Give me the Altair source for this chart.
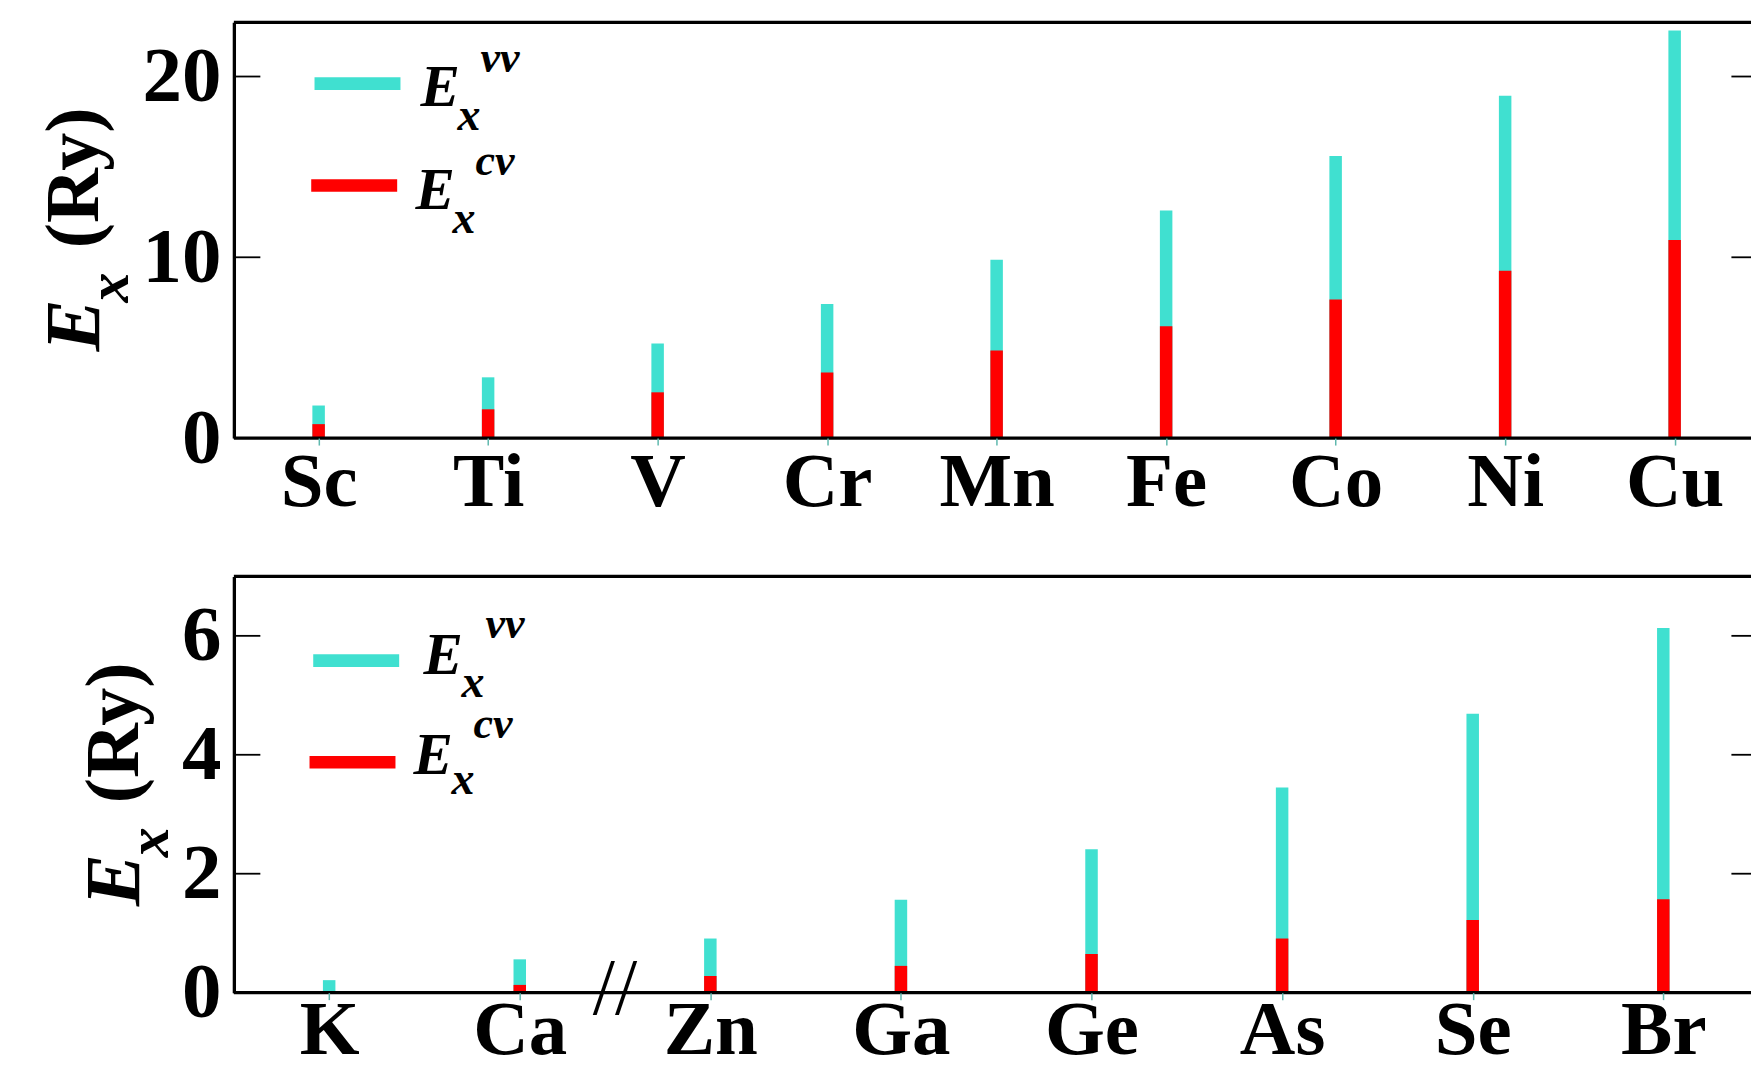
import altair as alt
import pandas as pd

# ---------------- data ----------------
top_elements = ["Sc", "Ti", "V", "Cr", "Mn", "Fe", "Co", "Ni", "Cu"]
top_vv = [1.80, 3.36, 5.23, 7.41, 9.87, 12.59, 15.60, 18.93, 22.55]
top_cv = [0.77, 1.59, 2.53, 3.63, 4.85, 6.19, 7.66, 9.26, 10.95]
top_yticks = [0, 10, 20]

bot_elements = ["K", "Ca", "Zn", "Ga", "Ge", "As", "Se", "Br"]
bot_vv = [0.21, 0.56, 0.91, 1.56, 2.41, 3.45, 4.69, 6.13]
bot_cv = [0.0, 0.13, 0.28, 0.45, 0.65, 0.91, 1.22, 1.57]
bot_yticks = [0, 2, 4, 6]

bot_break = [1.5]   # axis break drawn between Ca and Zn

FONT = "'Liberation Serif', 'Times New Roman', Times, serif"
TEAL = "#40E0D0"
RED = "#FF0000"
one = pd.DataFrame({"k": [0]})

W = 1518          # visible plot width (the right frame lies just beyond the window)
STEP_TOP = 169.6  # px per element, top panel
STEP_BOT = 190.7  # px per element, bottom panel
H_TOP = 416
H_BOT = 416.5
LABEL_SIZE = 77


def txt(s, x, y, size, italic=True, angle=0, weight="bold"):
    kw = dict(text=s, font=FONT, fontSize=size, fontWeight=weight,
              align="left", baseline="alphabetic", color="black")
    if italic:
        kw["fontStyle"] = "italic"
    if angle:
        kw["angle"] = angle
    return alt.Chart(one).mark_text(**kw).encode(x=alt.value(x), y=alt.value(y))


def hline(x1, x2, y, color, sw):
    return alt.Chart(one).mark_rule(color=color, strokeWidth=sw, strokeCap="butt").encode(
        x=alt.value(x1), x2=alt.value(x2), y=alt.value(y))


def panel(elements, vv, cv, yticks, ymax, step, H, leg, ttl, lab_pad, brk=None, anchor=False):
    idx = list(range(len(elements)))
    df = pd.DataFrame({"i": idx, "el": elements, "vv": vv, "cv": cv})
    names = "[" + ",".join("'%s'" % e for e in elements) + "]"
    xmax = -0.5 + W / step
    xscale = alt.Scale(domain=[-0.5, xmax], nice=False, zero=False, padding=0)
    xaxis = alt.Axis(title=None, values=idx, labelExpr=names + "[datum.value]",
                     domain=False, ticks=True, tickSize=7, tickColor="#5fb8ae",
                     tickWidth=1.5, labelFont=FONT, labelFontSize=LABEL_SIZE,
                     labelFontWeight="bold", labelPadding=lab_pad, labelAngle=0,
                     labelColor="black", labelFlush=False, labelOverlap=False,
                     labelBaseline="top", grid=False, zindex=1)
    yscale = alt.Scale(domain=[0, ymax], nice=False, zero=True, padding=0)
    yaxis = alt.Axis(title=None, values=yticks, format="d", domain=True, domainColor="black",
                     domainWidth=3.3, ticks=False, tickSize=0, labelFont=FONT, labelFontSize=79,
                     labelFontWeight="bold", labelPadding=13, labelColor="black", grid=False)

    teal = alt.Chart(df).mark_bar(size=12.5, color=TEAL).encode(
        x=alt.X("i:Q", scale=xscale, axis=xaxis),
        y=alt.Y("vv:Q", scale=yscale, axis=yaxis))
    red = alt.Chart(df).mark_bar(size=12.5, color=RED).encode(
        x=alt.X("i:Q"), y=alt.Y("cv:Q"))

    tdf = pd.DataFrame({"t": yticks})
    lticks = alt.Chart(tdf).mark_rule(color="black", strokeWidth=1.8).encode(
        y="t:Q", x=alt.value(0), x2=alt.value(26.5))
    rticks = alt.Chart(tdf).mark_rule(color="black", strokeWidth=1.8).encode(
        y="t:Q", x=alt.value(W - 19.6), x2=alt.value(W))

    top_frame = hline(0, W, 0, "black", 3.3)
    bot_frame = hline(0, W, H, "black", 3.3)

    (tx1, tx2, ty, rx1, rx2, ry, eT, xT, sT, eR, xR, sR) = leg
    layers = [teal, red, lticks, rticks, top_frame, bot_frame,
              hline(tx1, tx2, ty, TEAL, 12.7),
              hline(rx1, rx2, ry, RED, 12.7),
              txt("E", eT[0], eT[1], 59),
              txt("x", xT[0], xT[1], 46),
              txt("vv", sT[0], sT[1], 44),
              txt("E", eR[0], eR[1], 59),
              txt("x", xR[0], xR[1], 46),
              txt("cv", sR[0], sR[1], 44)]

    (ex, ey, sx, sy, rx, rry) = ttl
    layers += [txt("E", ex, ey, 78, angle=270),
               txt("x", sx, sy, 60, angle=270),
               txt("(Ry)", rx, rry, 76, italic=False, angle=270)]

    if brk is not None:
        bdf = pd.DataFrame({"b": brk, "v": [0] * len(brk)})
        layers.append(alt.Chart(bdf).mark_text(
            text="//", font=FONT, fontSize=80, fontWeight="normal", color="black",
            dy=21, align="center", baseline="alphabetic").encode(
            x=alt.X("b:Q"), y=alt.Y("v:Q")))

    if anchor:
        layers.append(alt.Chart(one).mark_point(filled=True, opacity=0, size=1, strokeWidth=0).encode(
            x=alt.value(-233.3), y=alt.value(-20.7)))

    return alt.layer(*layers).properties(width=W, height=H)


top = panel(top_elements, top_vv, top_cv, top_yticks, 23, STEP_TOP, H_TOP,
            leg=(80.7, 166.7, 61.3, 77.4, 163.4, 163.3,
                 (186.7, 83.3), (223.7, 107.3), (246.7, 49.3),
                 (181.7, 187.3), (218.7, 211.3), (241.7, 152.3)),
            ttl=(-135.3, 329.3, -106.3, 280.3, -135.6, 226),
            lab_pad=-0.6, anchor=True)

bot = panel(bot_elements, bot_vv, bot_cv, bot_yticks, 7, STEP_BOT, H_BOT,
            leg=(79.4, 165.4, 84.3, 75.7, 161.7, 186.0,
                 (189.7, 98.0), (227.7, 121.0), (251.7, 62.0),
                 (179.7, 198.0), (217.7, 218.0), (239.7, 162.0)),
            ttl=(-95.3, 330.0, -66.3, 281.0, -95.6, 227),
            lab_pad=-7.5, brk=bot_break)

chart = alt.vconcat(top, bot, spacing=138.4, bounds="flush").properties(
    padding={"left": 0, "top": 0, "right": 0, "bottom": 2}
).configure_view(stroke=None)

chart.save("out.html", embed_options={"renderer": "svg", "actions": False})
